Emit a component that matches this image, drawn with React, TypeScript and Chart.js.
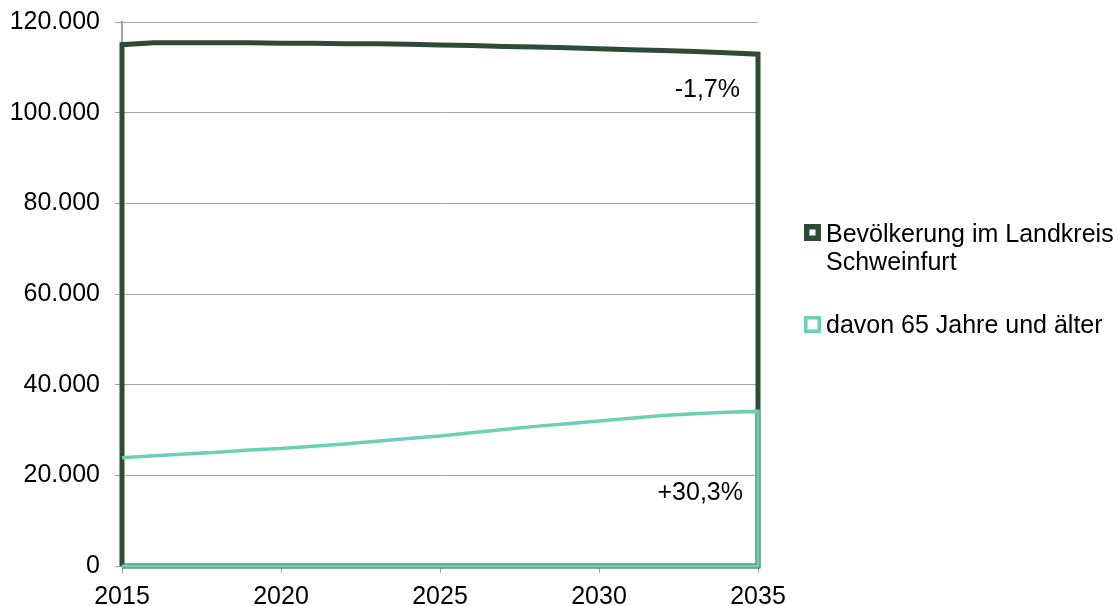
import React, { useEffect, useRef } from "react";
import { Chart, registerables } from "chart.js";

Chart.register(...registerables);

const years = [2015, 2016, 2017, 2018, 2019, 2020, 2021, 2022, 2023, 2024, 2025, 2026, 2027, 2028, 2029, 2030, 2031, 2032, 2033, 2034, 2035];
const population = [115000, 115400, 115400, 115400, 115400, 115300, 115300, 115200, 115200, 115100, 114900, 114800, 114600, 114500, 114300, 114100, 113900, 113700, 113500, 113200, 112900];
const seniors = [23900, 24300, 24700, 25100, 25600, 25900, 26400, 26900, 27500, 28100, 28700, 29400, 30100, 30800, 31400, 32000, 32600, 33200, 33600, 33900, 34100];
const seriesLabels = [["Bevölkerung im Landkreis", "Schweinfurt"], ["davon 65 Jahre und älter"]];
const changeLabels = ["-1,7%", "+30,3%"];
const yTicks = { min: 0, max: 120000, step: 20000 };
const xTicks = { min: 2015, max: 2035, step: 5 };

const DARK = "#2e4b35";
const TEAL = "#6dcfb4";
const FONT = "'Liberation Sans', Arial, sans-serif";

// Excel-style area outline: (baseline) -> values -> baseline -> back along baseline
const outline = (vals: number[], withLeftEdge: boolean) => [
  ...(withLeftEdge ? [{ x: years[0], y: 0 }] : []),
  ...years.map((yr, i) => ({ x: yr, y: vals[i] })),
  { x: years[years.length - 1], y: 0 },
  { x: years[0], y: 0 },
];

const overlayPlugin = {
  id: "overlay",
  afterDraw(chart: any) {
    const ctx = chart.ctx;
    const area = chart.chartArea;
    const ys = chart.scales.y;
    ctx.save();
    ctx.font = `25px ${FONT}`;
    ctx.fillStyle = "#000";
    ctx.textBaseline = "alphabetic";
    // change annotations
    ctx.textAlign = "right";
    ctx.fillText(changeLabels[0], area.right - 18, ys.getPixelForValue(103500));
    ctx.fillText(changeLabels[1], area.right - 15, ys.getPixelForValue(14500));

    // legend
    ctx.textAlign = "left";
    const legendX = 804;
    const items = [
      { color: DARK, border: 5.5, top: 224, baselines: [242, 270] },
      { color: TEAL, border: 3.5, top: 316, baselines: [333] },
    ];
    items.forEach((it, i) => {
      ctx.fillStyle = it.color;
      ctx.fillRect(legendX, it.top, 17, 17);
      ctx.fillStyle = "#fff";
      ctx.fillRect(legendX + it.border, it.top + it.border, 17 - 2 * it.border, 17 - 2 * it.border);
      ctx.fillStyle = "#000";
      seriesLabels[i].forEach((line, j) => {
        ctx.fillText(line, legendX + 22, it.baselines[j]);
      });
    });
    ctx.restore();
  },
};

export default function App() {
  const ref = useRef<HTMLCanvasElement>(null);
  useEffect(() => {
    document.body.style.margin = "0";
    if (!ref.current) return;
    Chart.defaults.color = "#000";
    const chart = new Chart(ref.current, {
      type: "line",
      data: {
        datasets: [
          {
            label: seriesLabels[0].join(" "),
            data: outline(population, true),
            borderColor: DARK,
            backgroundColor: DARK,
            borderWidth: 5,
            pointRadius: 0,
            fill: false,
            clip: false,
            order: 2,
            borderJoinStyle: "miter",
          },
          {
            label: seriesLabels[1].join(" "),
            data: outline(seniors, false),
            borderColor: TEAL,
            backgroundColor: TEAL,
            borderWidth: 3.5,
            pointRadius: 0,
            fill: false,
            clip: false,
            order: 1,
            borderJoinStyle: "miter",
          },
        ],
      },
      options: {
        animation: false,
        responsive: false,
        layout: { padding: { top: 22, right: 362, left: 0, bottom: 0 } },
        plugins: { legend: { display: false }, tooltip: { enabled: false } },
        scales: {
          x: {
            type: "linear",
            min: xTicks.min,
            max: xTicks.max,
            afterFit: (s: any) => { s.height = 40; s.paddingLeft = 0; s.paddingRight = 0; },
            ticks: {
              stepSize: xTicks.step,
              font: { family: FONT, size: 25 },
              color: "#000",
              padding: 9,
              maxRotation: 0,
              callback: (v: any) => String(v),
            },
            grid: { drawOnChartArea: false, drawTicks: true, tickLength: 7, color: "#a0a0a0" },
            border: { display: true, color: "#a0a0a0", width: 2 },
          },
          y: {
            type: "linear",
            min: yTicks.min,
            max: yTicks.max,
            afterFit: (s: any) => { s.width = 122; s.paddingTop = 0; s.paddingBottom = 0; },
            ticks: {
              stepSize: yTicks.step,
              font: { family: FONT, size: 25 },
              color: "#000",
              padding: 15,
              callback: (v: any) => Number(v).toLocaleString("de-DE"),
            },
            grid: { color: "#a6a6a6", lineWidth: 1, tickLength: 7, tickColor: "#a0a0a0" },
            border: { display: true, color: "#a0a0a0", width: 2 },
          },
        },
      },
      plugins: [overlayPlugin],
    } as any);
    return () => chart.destroy();
  }, []);
  return (
    <div style={{ width: 1120, height: 606 }}>
      <canvas ref={ref} width={1120} height={606} />
    </div>
  );
}
